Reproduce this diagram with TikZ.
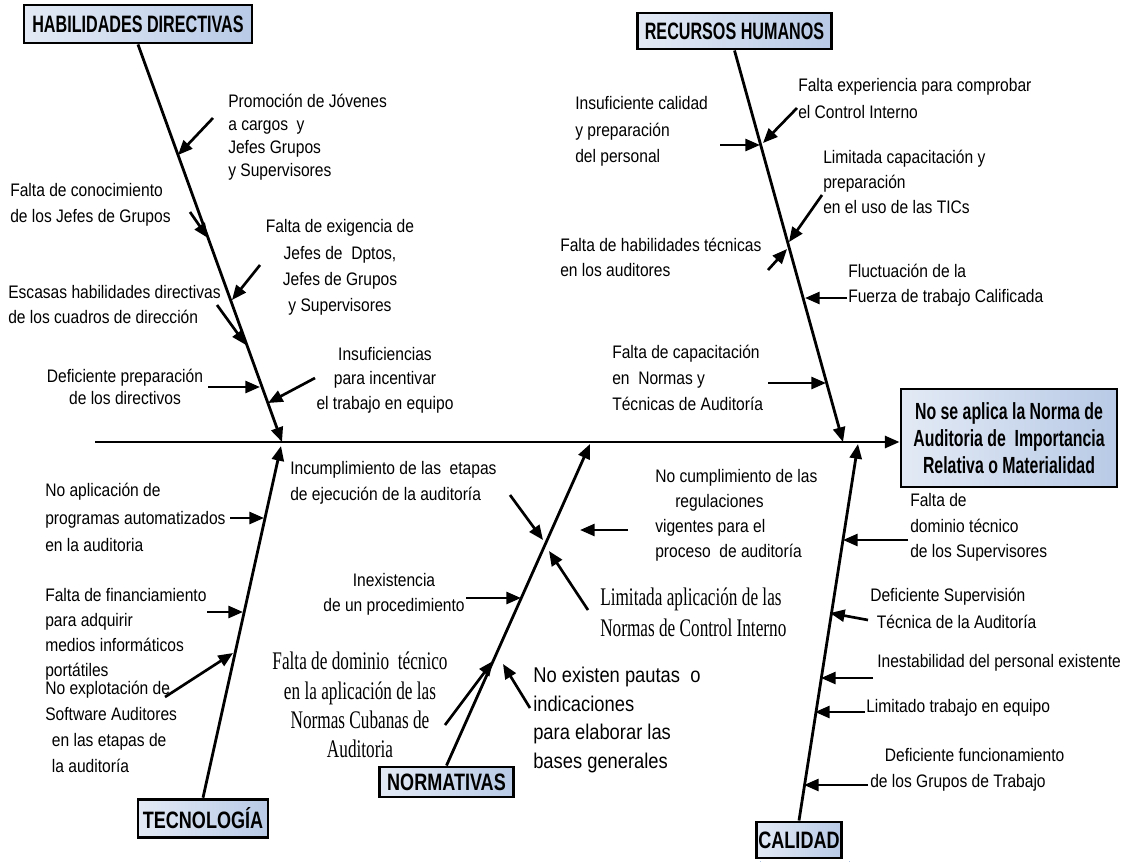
\documentclass[tikz,border=0pt]{standalone}
\usepackage{fontspec}
\setmainfont{Liberation Sans}
\newfontfamily\txtfont{Liberation Sans}[FakeStretch=0.86]
\newfontfamily\lblfont{Liberation Sans}[FakeStretch=0.68]
\newfontfamily\lblwfont{Liberation Sans}[FakeStretch=0.76]
\newfontfamily\serfont{Liberation Serif}[FakeStretch=0.68]
\usetikzlibrary{arrows.meta,calc}
\definecolor{boxlight}{HTML}{E3EAF5}
\definecolor{boxdark}{HTML}{B8CAE6}
\definecolor{shadowblue}{HTML}{AFC3E3}
\pgfdeclarelayer{bg}
\pgfsetlayers{bg,main}
\begin{document}
\begin{tikzpicture}[x=0.75pt,y=-0.75pt,
  tipstyle/.style={-{Triangle[length=11pt,width=9pt]}},
  bone/.style={line width=2.1pt,tipstyle},
  arr/.style={line width=2pt,tipstyle},
  catbox/.style={draw=black,line width=2.2pt,left color=boxlight,right color=boxdark,inner sep=0pt,align=center,text=black},
  lbl/.style={catbox,font=\lblfont\bfseries\fontsize{17.8pt}{20pt}\selectfont},
  lblw/.style={catbox,font=\lblwfont\bfseries\fontsize{17.8pt}{20pt}\selectfont},
  shadowrect/.style={draw=shadowblue,line width=0.7pt,dotted},
  txt/.style={font=\txtfont\fontsize{13.6pt}{#1}\selectfont,inner sep=0pt,anchor=west,align=left},
  txt/.default=18.75pt,
  txtc/.style={txt=#1,anchor=center,align=center},
  txtc/.default=18.75pt,
  ser/.style={font=\serfont\fontsize{19pt}{#1}\selectfont,inner sep=0pt,anchor=west,align=left},
  serc/.style={ser=#1,anchor=center,align=center},
  big/.style={font=\txtfont\fontsize{16pt}{#1}\selectfont,inner sep=0pt,anchor=west,align=left}
]
\useasboundingbox (0,0) rectangle (1124,861);
\fill[white] (0,0) rectangle (1124,861);

% ---------- boxes ----------
\node[lbl,minimum width=171pt,minimum height=28.5pt] (hd) at (138,24) {HABILIDADES DIRECTIVAS};
\node[lbl,minimum width=146pt,minimum height=27pt] (rh) at (734.5,31) {RECURSOS HUMANOS};
\node[lblw,minimum width=97.5pt,minimum height=29pt] (tec) at (203,818.5) {TECNOLOG\'IA};
\node[lblw,minimum width=100pt,minimum height=22.5pt] (nor) at (446.5,782) {NORMATIVAS};
\node[lblw,minimum width=64pt,minimum height=27pt] (cal) at (799,840) {CALIDAD};
\node[catbox,font=\lblfont\bfseries\fontsize{17.5pt}{20.25pt}\selectfont,minimum width=162pt,minimum height=73.5pt] (eff) at (1009,438)
  {No se aplica la Norma de\\Auditoria de\ \ Importancia\\Relativa o Materialidad};

\begin{pgfonlayer}{bg}
\foreach \b in {hd,rh,tec,nor,cal,eff}
  \draw[shadowrect] ($(\b.north west)+(6,8)$) rectangle ($(\b.south east)+(6,8)$);
\end{pgfonlayer}

% ---------- spine and bones ----------
\coordinate (sp0) at (95,442);
\draw[bone] (sp0) -- (sp0 -| eff.west);
\coordinate (hdtip) at (282,442);
\coordinate (rhtip) at (843,442);
\coordinate (tectip) at (281,446);
\coordinate (nortip) at (590,444);
\coordinate (caltip) at (858,444);
\draw[bone] (hd.south) -- (hdtip);
\draw[bone] (rh.south) -- (rhtip);
\draw[bone] (tec.north) -- (tectip);
\draw[bone] (nor.north) -- (nortip);
\draw[bone] (cal.north) -- (caltip);

% ---------- HABILIDADES DIRECTIVAS ----------
\node[txt=17.25pt] (t1) at (228,137.5) {Promoci\'on de J\'ovenes\\a cargos\ \ y\\Jefes Grupos\\y Supervisores};
\node[txt=19.5pt] (t2) at (10,205) {Falta de conocimiento\\de los Jefes de Grupos};
\node[txtc=19.7pt] (t3) at (340,267.5) {Falta de exigencia de\\Jefes de\ \ Dptos,\\Jefes de Grupos\\y Supervisores};
\node[txt=18.75pt] (t4) at (8,304.5) {Escasas habilidades directivas\\de los cuadros de direcci\'on};
\node[txtc=16.5pt] (t5) at (125,387) {Deficiente preparaci\'on\\de los directivos};
\node[txtc=18.4pt] (t6) at (385,380) {Insuficiencias\\para incentivar\\el trabajo en equipo};

\coordinate (a1s) at (213,118);  \coordinate (a1e) at (178,155);
\coordinate (a2s) at (190,212);  \coordinate (a2e) at (208,238);
\coordinate (a3s) at (260,265);  \coordinate (a3e) at (232,300);
\coordinate (a4s) at (217,305);  \coordinate (a4e) at (246,345);
\coordinate (a5s) at (208,387);  \coordinate (a5e) at (260,387);
\coordinate (a6s) at (315,378);  \coordinate (a6e) at (268,403);
\foreach \i in {1,...,6} \draw[arr] (a\i s) -- (a\i e);

% ---------- RECURSOS HUMANOS ----------
\node[txt=19.9pt] (b1) at (575,131.5) {Insuficiente calidad\\y preparaci\'on\\del personal};
\node[txt=20.25pt] (b2) at (798,98.5) {Falta experiencia para comprobar\\el Control Interno};
\node[txt=18.75pt] (b3) at (823,182) {Limitada capacitaci\'on y\\preparaci\'on\\en el uso de las TICs};
\node[txt=18.75pt] (b4) at (560,257.5) {Falta de habilidades t\'ecnicas\\en los auditores};
\node[txt=18.75pt] (b5) at (848,285.5) {Fluctuaci\'on de la\\Fuerza de trabajo Calificada};
\node[txt=19.5pt] (b6) at (612,378) {Falta de capacitaci\'on\\en\ \ Normas y\\T\'ecnicas de Auditor\'ia};

\coordinate (b1s) at (720,145);  \coordinate (b1e) at (760,145);
\coordinate (b2s) at (797,108);  \coordinate (b2e) at (763,143);
\coordinate (b3s) at (822,195);  \coordinate (b3e) at (789,242);
\coordinate (b4s) at (768,270);  \coordinate (b4e) at (787,249);
\coordinate (b5s) at (847,298);  \coordinate (b5e) at (805,298);
\coordinate (b6s) at (768,383);  \coordinate (b6e) at (826,383);
\foreach \i in {1,...,6} \draw[arr] (b\i s) -- (b\i e);

% ---------- TECNOLOGIA ----------
\node[txt=20.6pt] (c1) at (45,517.5) {No aplicaci\'on de\\programas automatizados\\en la auditoria};
\node[txt=18.75pt] (c2) at (45,634) {Falta de financiamiento\\para adquirir\\medios inform\'aticos\\port\'atiles};
\node[txt=19.5pt] (c3) at (45,727) {No explotaci\'on de\\Software Auditores\\\hspace*{5pt}en las etapas de\\\hspace*{5pt}la auditor\'ia};

\coordinate (c1s) at (230,518);  \coordinate (c1e) at (264,518);
\coordinate (c2s) at (207,612);  \coordinate (c2e) at (243,612);
\coordinate (c3s) at (165,697);  \coordinate (c3e) at (233,653);
\foreach \i in {1,...,3} \draw[arr] (c\i s) -- (c\i e);

% ---------- NORMATIVAS ----------
\node[txt=19.5pt] (d1) at (290,483) {Incumplimiento de las\ \ etapas\\de ejecuci\'on de la auditor\'ia};
\node[txt=18.75pt] (d2) at (655,515.5) {No cumplimiento de las\\\hspace*{15pt}regulaciones\\vigentes para el\\proceso\ \ de auditor\'ia};
\node[ser=23.25pt] (d3) at (600,612.5) {Limitada aplicaci\'on de las\\Normas de Control Interno};
\node[txtc=18.75pt] (d4) at (394,594.5) {Inexistencia\\de un procedimiento};
\node[serc=22pt] (d5) at (360,705) {Falta de dominio\ \ t\'ecnico\\en la aplicaci\'on de las\\Normas Cubanas de\\Auditoria};
\node[big=21.5pt] (d6) at (533,720) {No existen pautas\ \ o\\indicaciones\\para elaborar las\\bases generales};

\coordinate (d1s) at (510,495);  \coordinate (d1e) at (543,540);
\coordinate (d2s) at (628,530);  \coordinate (d2e) at (580,530);
\coordinate (d3s) at (588,610);  \coordinate (d3e) at (549,551);
\coordinate (d4s) at (466,598);  \coordinate (d4e) at (521,598);
\coordinate (d5s) at (445,725);  \coordinate (d5e) at (493,661);
\coordinate (d6s) at (530,708);  \coordinate (d6e) at (503,664);
\foreach \i in {1,...,6} \draw[arr] (d\i s) -- (d\i e);

% ---------- CALIDAD ----------
\node[txt=19.1pt] (e1) at (910,527.5) {Falta de\\dominio t\'ecnico\\de los Supervisores};
\node[txt=20.25pt] (e2) at (870,608.5) {Deficiente Supervisi\'on\\\hspace*{5pt}T\'ecnica de la Auditor\'ia};
\node[txt] (e3) at (877,663) {Inestabilidad del personal existente};
\node[txt] (e4) at (866,708) {Limitado trabajo en equipo};
\node[txt=19.5pt] (e5) at (870,770) {\hspace*{11pt}Deficiente funcionamiento\\de los Grupos de Trabajo};

\coordinate (e1s) at (908,540);  \coordinate (e1e) at (843,540);
\coordinate (e2s) at (868,620);  \coordinate (e2e) at (830,613);
\coordinate (e3s) at (873,678);  \coordinate (e3e) at (821,678);
\coordinate (e4s) at (865,712);  \coordinate (e4e) at (815,712);
\coordinate (e5s) at (868,785);  \coordinate (e5e) at (804,785);
\foreach \i in {1,...,5} \draw[arr] (e\i s) -- (e\i e);
\end{tikzpicture}
\end{document}
